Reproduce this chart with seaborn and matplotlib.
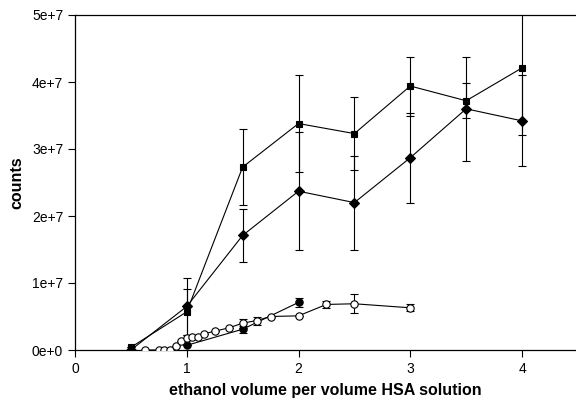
import matplotlib
matplotlib.use("Agg")
import matplotlib.pyplot as plt
import seaborn as sns
import pandas as pd

sns.set_style("ticks")
plt.rcParams['font.family'] = ['Liberation Sans', 'DejaVu Sans']
plt.rcParams['text.color'] = 'black'
plt.rcParams['axes.labelcolor'] = 'black'
plt.rcParams['xtick.color'] = 'black'
plt.rcParams['ytick.color'] = 'black'

# Series: filled squares
sq_x = [0.5, 1.0, 1.5, 2.0, 2.5, 3.0, 3.5, 4.0]
sq_y = [0.04e7, 0.57e7, 2.73e7, 3.38e7, 3.23e7, 3.94e7, 3.72e7, 4.21e7]
sq_err = [0.0, 0.34e7, 0.57e7, 0.72e7, 0.54e7, 0.44e7, 0.26e7, 1.0e7]

# Series: filled diamonds
di_x = [0.5, 1.0, 1.5, 2.0, 2.5, 3.0, 3.5, 4.0]
di_y = [0.0, 0.65e7, 1.71e7, 2.37e7, 2.20e7, 2.87e7, 3.60e7, 3.42e7]
di_err = [0.0, 0.42e7, 0.39e7, 0.88e7, 0.70e7, 0.67e7, 0.78e7, 0.68e7]

# Series: filled circles
fc_x = [1.0, 1.5, 2.0]
fc_y = [0.07e7, 0.31e7, 0.71e7]
fc_err = [0.0, 0.05e7, 0.07e7]

# Series: open circles
oc_x = [0.63, 0.75, 0.8, 0.85, 0.9, 0.95, 1.0, 1.05, 1.1, 1.15, 1.25, 1.375,
        1.5, 1.625, 1.75, 2.0, 2.25, 2.5, 3.0]
oc_y = [0.0, 0.0, 0.0, 0.0, 0.06e7, 0.13e7, 0.18e7, 0.20e7, 0.19e7, 0.24e7,
        0.28e7, 0.33e7, 0.40e7, 0.44e7, 0.50e7, 0.51e7, 0.68e7, 0.69e7, 0.63e7]
oc_err = [0, 0, 0, 0, 0, 0, 0, 0, 0, 0, 0, 0, 0.07e7, 0.06e7, 0, 0, 0.05e7,
          0.14e7, 0.05e7]

x_ticks = [0, 1, 2, 3, 4]
y_ticks = [0, 1e7, 2e7, 3e7, 4e7, 5e7]
y_labels = ["0e+0", "1e+7", "2e+7", "3e+7", "4e+7", "5e+7"]

fig = plt.figure(figsize=(5.76, 4.03), dpi=100)
ax = fig.add_axes([75/576, 1 - 350/403, 501/576, 335/403])

series = [
    (sq_x, sq_y, sq_err, "s", "black", 5.0),
    (di_x, di_y, di_err, "D", "black", 4.6),
    (fc_x, fc_y, fc_err, "o", "black", 5.3),
    (oc_x, oc_y, oc_err, "o", "white", 5.3),
]

for xs, ys, es, mk, fc, ms in series:
    ax.errorbar(xs, ys, yerr=es, fmt="none", ecolor="black", elinewidth=0.8,
                capsize=3, capthick=0.8, zorder=2)
    df = pd.DataFrame({"x": xs, "y": ys})
    sns.lineplot(data=df, x="x", y="y", ax=ax, color="black", linewidth=0.8,
                 marker=mk, markersize=ms, markerfacecolor=fc,
                 markeredgecolor="black", markeredgewidth=0.8, zorder=3,
                 estimator=None, sort=False)

ax.set_xlim(0, 4.483)
ax.set_ylim(0, 5e7)
ax.set_xticks(x_ticks)
ax.set_xticklabels([str(t) for t in x_ticks])
ax.set_yticks(y_ticks)
ax.set_yticklabels(y_labels)
ax.tick_params(axis="both", direction="out", length=5, width=0.8,
               labelsize=10, color="black", labelcolor="black")
ax.set_xlabel("ethanol volume per volume HSA solution", fontsize=11.5,
              fontweight="bold", labelpad=5)
ax.set_ylabel("counts", fontsize=11.5, fontweight="bold", labelpad=5)
for s in ["left", "bottom", "top"]:
    ax.spines[s].set_color("black")
    ax.spines[s].set_linewidth(0.9)
ax.spines["right"].set_visible(False)

fig.savefig("out.png", dpi=100)
